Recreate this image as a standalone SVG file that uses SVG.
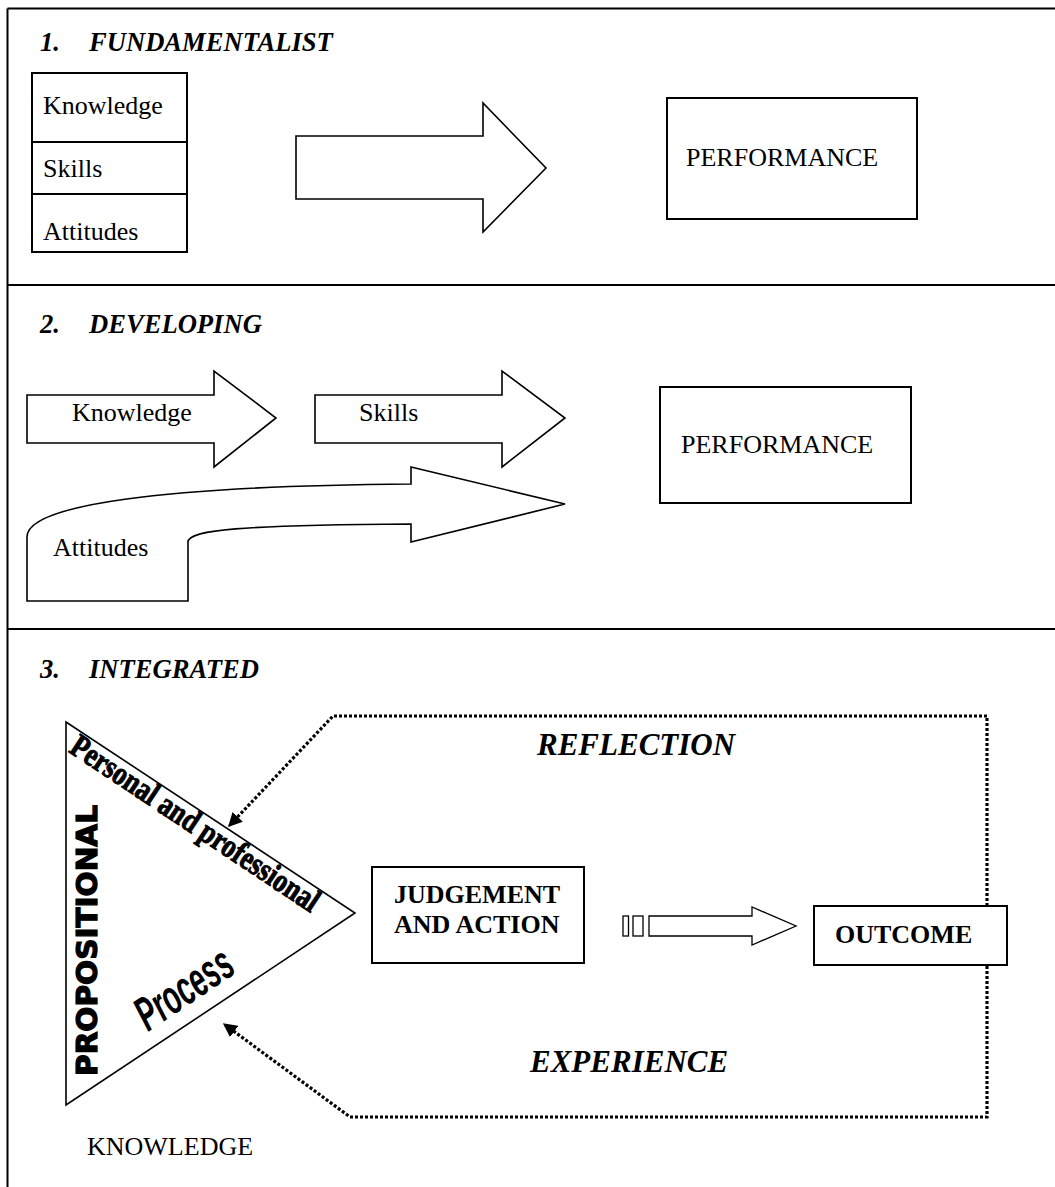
<svg xmlns="http://www.w3.org/2000/svg" width="1055" height="1187" viewBox="0 0 1055 1187">
  <defs>
    <style>
      .frame { fill: none; stroke: #000; stroke-width: 2; }
      .box { fill: #fff; stroke: #000; stroke-width: 2; }
      .shape { fill: #fff; stroke: #000; stroke-width: 1.6; stroke-linejoin: miter; }
      .thin { fill: #fff; stroke: #000; stroke-width: 1.3; }
      .dots { fill: none; stroke: #000; stroke-width: 3.2; stroke-dasharray: 3 2; }
      .t { font-family: "Liberation Serif", "Times New Roman", serif; font-size: 26px; fill: #000; }
      .head { font-family: "Liberation Serif", "Times New Roman", serif; font-size: 26.6px; font-weight: bold; font-style: italic; fill: #000; }
      .b { font-family: "Liberation Serif", "Times New Roman", serif; font-size: 26px; font-weight: bold; fill: #000; }
      .big { font-family: "Liberation Serif", "Times New Roman", serif; font-size: 31px; font-weight: bold; font-style: italic; fill: #000; }
      .art { font-family: "Liberation Serif", "Times New Roman", serif; font-size: 33px; font-weight: bold; fill: #000; stroke: #000; stroke-width: 1; }
      .heavy { font-family: "DejaVu Sans", "Liberation Sans", sans-serif; font-size: 28px; font-weight: bold; fill: #000; stroke: #000; stroke-width: 1.2; }
      .proc { font-family: "Liberation Sans", Arial, sans-serif; font-size: 48px; font-style: italic; font-weight: bold; fill: #000; }
    </style>
    <marker id="dotHead" viewBox="0 0 10 10" refX="9" refY="5" markerWidth="4.4" markerHeight="4.4" markerUnits="strokeWidth" orient="auto">
      <path d="M0,0 L10,5 L0,10 Z" fill="#000"/>
    </marker>
  </defs>

  <!-- outer frame and section dividers -->
  <g id="frame">
    <line class="frame" x1="7.5" y1="8.5" x2="1056" y2="8.5"/>
    <line class="frame" x1="7.5" y1="8.5" x2="7.5" y2="1188"/>
    <line class="frame" x1="7.5" y1="285" x2="1056" y2="285"/>
    <line class="frame" x1="7.5" y1="629" x2="1056" y2="629"/>
  </g>

  <!-- 1. Fundamentalist -->
  <g id="title-1">
    <text class="head" x="40" y="51">1.</text>
    <text class="head" x="89" y="51">FUNDAMENTALIST</text>
  </g>
  <g id="ksa-stack">
    <rect class="box" x="32" y="73" width="155" height="179"/>
    <line class="frame" x1="32" y1="142" x2="187" y2="142"/>
    <line class="frame" x1="32" y1="194" x2="187" y2="194"/>
    <text class="t" x="43" y="114">Knowledge</text>
    <text class="t" x="43" y="177">Skills</text>
    <text class="t" x="43" y="240">Attitudes</text>
  </g>
  <g id="arrow-1">
    <path class="shape" d="M296,136 L483,136 L483,103 L546,168 L483,232 L483,199 L296,199 Z"/>
  </g>
  <g id="performance-1">
    <rect class="box" x="667" y="98" width="250" height="121"/>
    <text class="t" x="686" y="166">PERFORMANCE</text>
  </g>

  <!-- 2. Developing -->
  <g id="title-2">
    <text class="head" x="40" y="333">2.</text>
    <text class="head" x="89" y="333">DEVELOPING</text>
  </g>
  <g id="knowledge-arrow">
    <path class="shape" d="M27,395 L214,395 L214,371 L276,418 L214,467 L214,443 L27,443 Z"/>
    <text class="t" x="72" y="421">Knowledge</text>
  </g>
  <g id="skills-arrow">
    <path class="shape" d="M315,395 L502,395 L502,371 L565,418 L502,467 L502,443 L315,443 Z"/>
    <text class="t" x="359" y="421">Skills</text>
  </g>
  <g id="attitudes-arrow">
    <path class="shape" d="M27,601 L27,537 C27,505 160,486 411,484 L411,467 L565,504 L411,542 L411,524 C240,525 188,530 188,542 L188,601 Z"/>
    <text class="t" x="53" y="556">Attitudes</text>
  </g>
  <g id="performance-2">
    <rect class="box" x="660" y="387" width="251" height="116"/>
    <text class="t" x="681" y="453">PERFORMANCE</text>
  </g>

  <!-- 3. Integrated -->
  <g id="title-3">
    <text class="head" x="40" y="678">3.</text>
    <text class="head" x="89" y="678">INTEGRATED</text>
  </g>

  <!-- dotted feedback loop: reflection and experience -->
  <g id="connectors">
    <path class="dots" d="M987,916 L987,716 L333,716 L229,826" marker-end="url(#dotHead)"/>
    <path class="dots" d="M987,916 L987,1117 L350,1117 L224,1024" marker-end="url(#dotHead)"/>
    <rect class="thin" x="623" y="916" width="5.5" height="20"/>
    <rect class="thin" x="633" y="916" width="10" height="20"/>
    <path class="thin" d="M649,916 L752,916 L752,907 L796,926 L752,945 L752,936 L649,936 Z"/>
  </g>

  <g id="knowledge-triangle">
    <path class="shape" d="M66,722 L355,913 L66,1105 Z"/>
    <text class="art" transform="translate(67,722) rotate(33.64)" x="17" y="24" textLength="292" lengthAdjust="spacingAndGlyphs">Personal and professional</text>
    <text class="heavy" transform="translate(97,1076) rotate(-90)" x="0" y="0" textLength="271" lengthAdjust="spacingAndGlyphs">PROPOSITIONAL</text>
    <text class="proc" transform="translate(148,1032) rotate(-33.8)" x="0" y="0" textLength="108" lengthAdjust="spacingAndGlyphs">Process</text>
    <text class="t" x="87" y="1155">KNOWLEDGE</text>
  </g>

  <g id="judgement">
    <rect class="box" x="372" y="867" width="212" height="96"/>
    <text class="b" x="394" y="903">JUDGEMENT</text>
    <text class="b" x="394" y="933">AND ACTION</text>
  </g>
  <g id="outcome">
    <rect class="box" x="814" y="906" width="193" height="59"/>
    <text class="b" x="835" y="943">OUTCOME</text>
  </g>

  <g id="labels">
    <text class="big" x="537" y="755">REFLECTION</text>
    <text class="big" x="530" y="1072">EXPERIENCE</text>
  </g>
</svg>
